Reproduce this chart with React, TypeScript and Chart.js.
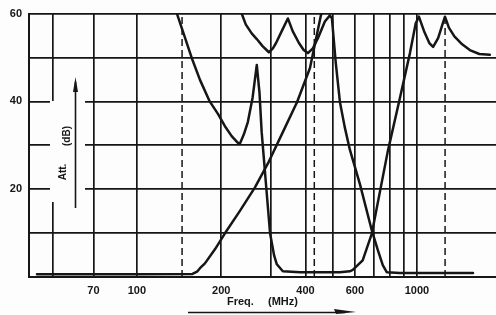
import { useEffect, useRef } from 'react';
import { Chart, registerables } from 'chart.js';

Chart.register(...registerables);

// Axis definitions
const gridFreqs = [50, 70, 100, 200, 300, 400, 500, 600, 700, 800, 900, 1000];
const labeledFreqs = [70, 100, 200, 400, 600, 1000];
const dashedFreqs = [145, 430, 1260];
const yLabeled = [20, 40, 60];

// Low-pass curve
const lowFreq = [44, 100, 158, 164, 168, 175, 190, 206, 233, 264, 296, 332, 373, 415, 454, 465];
const lowAtt = [0.6, 0.6, 0.7, 1.2, 2.0, 3.1, 6.3, 9.9, 15, 20.4, 26.3, 33, 39.8, 47.6, 59.6, 61.6];

// Band-pass curve (300-550 MHz)
const bandFreq = [133, 139, 148, 157, 168, 182, 195, 206, 218, 229, 233, 241, 249, 259, 268, 274, 279, 290, 299, 309, 316, 332, 383, 530, 576, 590, 640, 690, 786, 870, 944, 990, 1016, 1060, 1107, 1142, 1190, 1230, 1259, 1300, 1360, 1450, 1544, 1670, 1820];
const bandAtt = [63, 60, 54.8, 49.9, 44.9, 40, 37.1, 34.4, 32.1, 30.6, 30.3, 32.5, 35.3, 40.9, 48.3, 42, 33, 20, 9.9, 4.9, 2.9, 1.3, 1.1, 1.1, 1.3, 1.6, 3.8, 9.9, 28.5, 40.9, 51, 57.8, 59.3, 56, 53.3, 52.4, 54.4, 57.3, 59.3, 56.8, 54.8, 53, 51.7, 50.8, 50.6];

// High-pass curve (800 MHz +)
const highFreq = [229, 237, 245, 257, 268, 281, 296, 306, 314, 329, 346, 360, 379, 394, 408, 425, 443, 469, 489, 497, 513, 531, 552, 576, 626, 690, 725, 755, 780, 868, 1585];
const highAtt = [62.9, 59.9, 57.5, 55.5, 54.2, 52.6, 51.2, 52.1, 53.3, 56, 58.9, 56, 53.3, 51.7, 51, 52.1, 54.4, 58.2, 59.6, 58.9, 48.8, 39.8, 34.2, 29, 21.1, 10.6, 6.1, 2.7, 1.1, 0.9, 0.9];

const INK = '#161616';
const FONT = '"Liberation Sans", Arial, sans-serif';

function pts(xs: number[], ys: number[]) {
  return xs.map((x, i) => ({ x, y: ys[i] }));
}

const decorPlugin = {
  id: 'decor',
  beforeDraw(chart: any) {
    const { ctx, width, height } = chart;
    ctx.save();
    ctx.fillStyle = '#fdfdfd';
    ctx.fillRect(0, 0, width, height);
    ctx.restore();
  },
  afterDraw(chart: any) {
    const { ctx } = chart;
    ctx.save();
    // gaps in grid around y-axis label
    ctx.fillStyle = '#fdfdfd';
    ctx.fillRect(50, 101, 35, 101);
    ctx.fillRect(65, 95, 18, 8);
    // y-axis title
    ctx.fillStyle = INK;
    ctx.font = `bold 10px ${FONT}`;
    ctx.textAlign = 'center';
    ctx.textBaseline = 'middle';
    ctx.save();
    ctx.translate(63, 172);
    ctx.rotate(-Math.PI / 2);
    ctx.fillText('Att.', 0, 0);
    ctx.restore();
    ctx.save();
    ctx.translate(67, 136);
    ctx.rotate(-Math.PI / 2);
    ctx.fillText('(dB)', 0, 0);
    ctx.restore();
    // vertical arrow
    ctx.strokeStyle = INK;
    ctx.lineWidth = 1.6;
    ctx.beginPath();
    ctx.moveTo(75.5, 208);
    ctx.lineTo(75.5, 82);
    ctx.stroke();
    ctx.beginPath();
    ctx.moveTo(75.5, 77);
    ctx.lineTo(73, 92);
    ctx.lineTo(78, 92);
    ctx.closePath();
    ctx.fill();
    // x-axis title
    ctx.font = `bold 11px ${FONT}`;
    ctx.textAlign = 'left';
    ctx.fillText('Freq.', 227, 302);
    ctx.fillText('(MHz)', 268, 302);
    // horizontal arrow
    ctx.beginPath();
    ctx.moveTo(188, 312.5);
    ctx.lineTo(345, 312.5);
    ctx.stroke();
    ctx.beginPath();
    ctx.moveTo(356, 312);
    ctx.lineTo(334, 309);
    ctx.lineTo(336, 314);
    ctx.closePath();
    ctx.fill();
    ctx.restore();
  },
};

export default function App() {
  const ref = useRef<HTMLCanvasElement | null>(null);
  useEffect(() => {
    if (!ref.current) return;
    const curveStyle = {
      borderColor: INK,
      borderWidth: 2.5,
      pointRadius: 0,
      tension: 0,
      borderJoinStyle: 'round' as const,
      borderCapStyle: 'round' as const,
      fill: false,
    };
    const dashed = dashedFreqs.map((f) => ({
      data: [{ x: f, y: 0 }, { x: f, y: 60 }],
      borderColor: INK,
      borderWidth: 1.5,
      borderDash: [7, 4],
      pointRadius: 0,
      fill: false,
    }));
    const chart = new Chart(ref.current, {
      type: 'line',
      data: {
        datasets: [
          ...dashed,
          { ...curveStyle, data: pts(lowFreq, lowAtt) },
          { ...curveStyle, data: pts(bandFreq, bandAtt) },
          { ...curveStyle, data: pts(highFreq, highAtt) },
        ] as any,
      },
      options: {
        animation: false,
        responsive: false,
        events: [],
        layout: { padding: { top: 10, right: 0, left: 0, bottom: 0 } },
        plugins: { legend: { display: false }, tooltip: { enabled: false } },
        scales: {
          x: {
            type: 'logarithmic',
            min: 41.2,
            max: 1915,
            afterBuildTicks: (scale: any) => {
              scale.ticks = gridFreqs.map((v) => ({ value: v }));
            },
            afterFit: (scale: any) => {
              scale.height = 38;
            },
            ticks: {
              autoSkip: false,
              maxRotation: 0,
              padding: 7,
              color: INK,
              font: { family: FONT, size: 11, weight: 'bold' },
              callback: (v: any) => (labeledFreqs.includes(Number(v)) ? String(v) : ''),
            },
            grid: { color: INK, lineWidth: 1.7, drawTicks: false },
            border: { display: true, color: INK, width: 2 },
          },
          y: {
            min: 0,
            max: 60,
            afterFit: (scale: any) => {
              scale.width = 29;
            },
            ticks: {
              stepSize: 10,
              padding: 7,
              color: INK,
              font: { family: FONT, size: 11, weight: 'bold' },
              callback: (v: any) => (yLabeled.includes(Number(v)) ? String(v) : ''),
            },
            grid: { color: INK, lineWidth: 1.7, drawTicks: false },
            border: { display: true, color: INK, width: 2 },
          },
        },
      } as any,
      plugins: [decorPlugin],
    });
    return () => chart.destroy();
  }, []);
  return (
    <div style={{ position: 'absolute', left: 0, top: 0, width: 496, height: 315 }}>
      <canvas ref={ref} width={496} height={315} style={{ display: 'block' }} />
    </div>
  );
}
